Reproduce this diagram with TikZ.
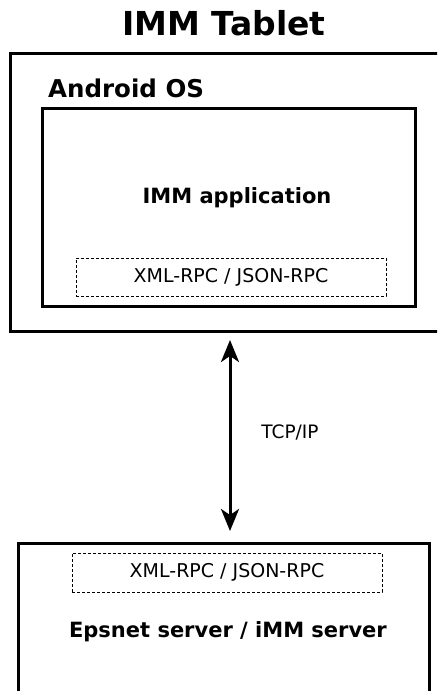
\documentclass[tikz,border=0pt]{standalone}
\usepackage{fontspec}
\setmainfont{DejaVu Sans}
\usetikzlibrary{arrows.meta,positioning,calc}
\tikzstyle{frame}=[rectangle, draw, line width=3pt, inner sep=0pt]

\begin{document}
\begin{tikzpicture}[x=1pt,y=-1pt,
	rpc/.style={rectangle,draw,dash pattern=on 3pt off 2pt,line width=1pt,minimum width=310pt,minimum height=38pt,
		font=\fontsize{19}{23}\selectfont},
	heading/.style={font=\fontsize{21}{25}\bfseries\selectfont},
	link/.style={line width=3pt,{Stealth[length=22pt,width=18pt,inset=6pt]}-{Stealth[length=22pt,width=18pt,inset=6pt]}}]
\useasboundingbox (0,0) rectangle (437,691);
\clip (0,0) rectangle (437,691);

\node (title) at (224,23) {\fontsize{33}{38}\bfseries\selectfont IMM Tablet};
\node (tablet) at (227.5,192) [frame,minimum width=435pt,minimum height=278pt] {};
\node (android) at (48,88) [anchor=west,inner sep=0pt,font=\fontsize{24.5}{29}\bfseries\selectfont] {Android OS};
\node (app) at (228.5,207) [frame,minimum width=373pt,minimum height=198pt] {};
\node (appname) at (237,198) [heading] {IMM application};
\node (rpc1) at (231,277) [rpc] {XML-RPC / JSON-RPC};

\node (server) at (223.5,631.5) [frame,minimum width=411pt,minimum height=177pt] {};
\node (rpc2) at (227,572.5) [rpc,minimum height=39pt] {XML-RPC / JSON-RPC};
\node (servername) at (228,632) [heading] {Epsnet server / iMM server};

\coordinate (tcptop) at (230,340);
\coordinate (tcpbot) at (230,531);
\draw[link] (tcptop) -- (tcpbot);
\node (tcp) at (290,432) [font=\fontsize{18.5}{22}\selectfont] {TCP/IP};
\end{tikzpicture}
\end{document}
